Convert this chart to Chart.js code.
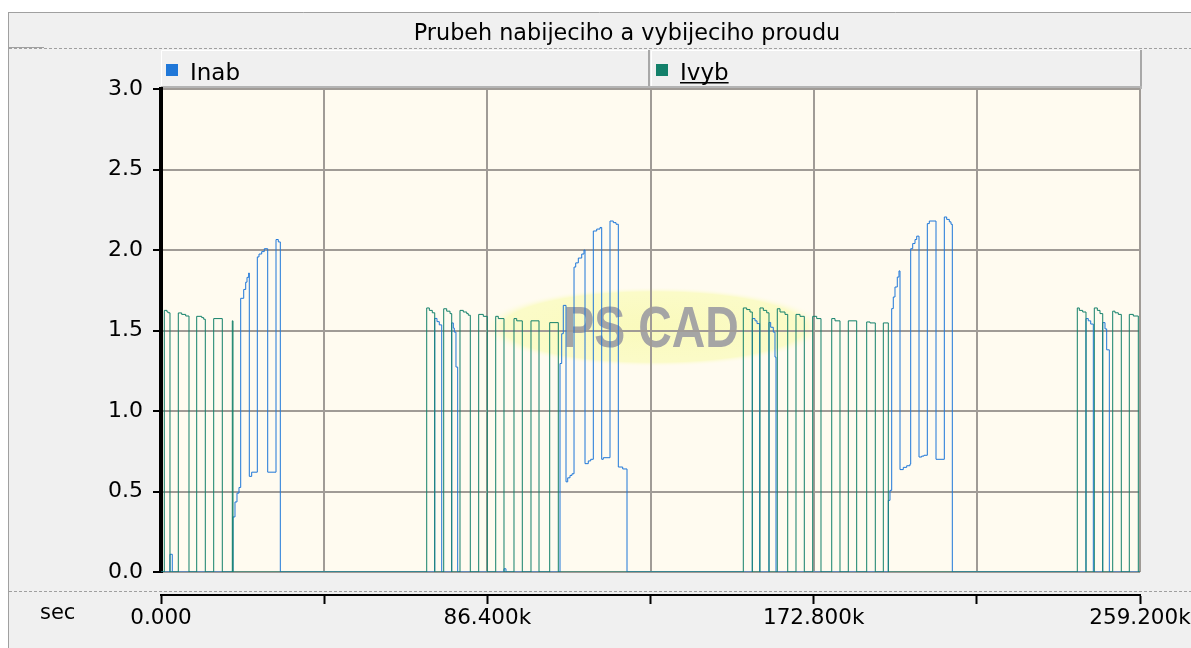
<!DOCTYPE html>
<html><head><meta charset="utf-8">
<script src="https://cdn.jsdelivr.net/npm/chart.js@4.4.0/dist/chart.umd.min.js"></script>
<style>html,body{margin:0;padding:0;background:#fff;overflow:hidden}canvas{display:block}</style>
</head><body>
<canvas id="c" width="1191" height="648"></canvas>
<script>
const chartTitle = 'Prubeh nabijeciho a vybijeciho proudu';
const seriesNames = ['Inab', 'Ivyb'];
const xUnit = 'sec';
const xMin = 0, xMax = 259200, xStep = 43200, xLabelStep = 86400;
const yMin = 0, yMax = 3.0, yStep = 0.5;

// [time s, current] – value holds until the next point
const inabSteps = [[0,0],[2380,0.11],[2990,0],
 [19060,0.342],[19590,0.435],[20120,0.49],[20650,0.525],[21100,1.70],[21900,1.755],[22430,1.80],[22770,1.83],[23220,1.857],[23380,0.594],[24010,0.62],[25500,1.957],[25950,1.975],[26660,1.99],[27350,2.008],[28250,0.62],[30450,2.065],[31060,2.05],[31590,0],
 [72470,1.575],[73070,1.555],[73680,1.535],[74320,0],
 [76970,1.547],[77390,1.515],[77650,1.49],[78100,1.273],[78550,0],
 [90810,0.02],[91340,0],
 [105640,1.295],[106090,1.48],[106510,1.656],[107230,0.56],[107680,0.585],[108290,0.60],[108820,0.61],[109350,1.894],[109800,1.92],[110490,1.95],[111390,1.975],[111990,2.0],[112260,0.673],[113130,0.69],[113770,0.70],[114460,2.118],[115360,2.13],[116230,2.14],[116680,0.70],[117100,0.71],[118880,2.18],[119750,2.17],[120470,2.16],[121080,0.652],[122240,0.64],[123380,0],
 [156550,1.574],[157270,1.56],[157800,1.543],[158500,0],
 [160970,1.55],[161420,1.52],[162110,1.49],[162560,1.335],[162830,0],
 [192560,0.445],[193010,0.507],[193460,1.636],[193880,1.708],[194330,1.77],[194940,1.832],[195390,1.87],[195660,0.636],[196530,0.65],[197430,0.66],[198300,0.67],[198490,2.008],[199020,2.04],[199630,2.065],[200080,2.086],[200690,0.714],[201400,0.72],[202010,0.725],[202890,2.164],[203420,2.18],[205190,0.70],[207390,2.205],[208020,2.19],[208710,2.175],[209160,2.16],[209510,0],
 [244900,1.574],[245510,1.56],[246150,1.54],[246840,0],
 [249330,1.549],[249930,1.51],[250380,1.38],[251080,0],
 [259200,0]];

const ivybSteps = [[0,0],
 [870,1.625],[1590,1.615],[1930,1.61],[2380,0],
 [4580,1.609],[5480,1.60],[6540,1.59],[7410,0],
 [9450,1.588],[10780,1.58],[11300,1.57],[11730,0],
 [13950,1.574],[16230,0],
 [18880,1.56],[19060,0],
 [70350,1.64],[71040,1.625],[71830,1.61],[72470,0],
 [74850,1.635],[75640,1.62],[76520,1.605],[76970,0],
 [79160,1.625],[80040,1.615],[80940,1.605],[81360,1.595],[81890,0],
 [84110,1.60],[85330,1.588],[86390,0],
 [88620,1.588],[89300,1.574],[90810,0],
 [93460,1.574],[94180,1.56],[95660,0],
 [97960,1.56],[100080,0],
 [102910,1.549],[105190,0],
 [154170,1.64],[155070,1.63],[155940,1.615],[156550,0],
 [158590,1.64],[159470,1.625],[160370,1.61],[160970,0],
 [163170,1.635],[163890,1.615],[165210,1.60],[165930,0],
 [168120,1.60],[169180,1.588],[170320,0],
 [172540,1.588],[173600,1.574],[174740,0],
 [177580,1.574],[178450,1.56],[179770,0],
 [181970,1.56],[184190,0],
 [186840,1.553],[187720,1.547],[189120,0],
 [191240,1.547],[192560,0],
 [242600,1.64],[243130,1.625],[244030,1.615],[244900,0],
 [247100,1.64],[247900,1.625],[248610,1.605],[249330,0],
 [251970,1.62],[252580,1.61],[253460,1.60],[254250,0],
 [256370,1.60],[257430,1.59],[258750,0],
 [259200,0]];

const FONT = '"DejaVu Sans", Verdana, sans-serif';
const BLUE = '#1f77d8', GREEN = '#13806a', GRID = '#a09b96';
const toPoints = s => s.map(([x, y]) => ({x, y}));

const framePlugin = {
  id: 'frame',
  beforeDraw(chart) {
    const {ctx, chartArea: a, width, height} = chart;
    ctx.save();
    ctx.fillStyle = '#fff'; ctx.fillRect(0, 0, width, height);
    ctx.fillStyle = '#f0f0f0'; ctx.fillRect(8, 12, width - 8, height - 12);
    ctx.strokeStyle = '#a0a0a0'; ctx.lineWidth = 1;
    ctx.beginPath();
    ctx.moveTo(8, 12.5); ctx.lineTo(width, 12.5);
    ctx.moveTo(8.5, 12); ctx.lineTo(8.5, height);
    ctx.moveTo(9, 47.5); ctx.lineTo(44, 47.5);
    ctx.stroke();
    ctx.setLineDash([3, 2]); ctx.strokeStyle = '#a0a0a0';
    ctx.beginPath();
    ctx.moveTo(9, 48.5); ctx.lineTo(width, 48.5);
    ctx.moveTo(9, 591.5); ctx.lineTo(width, 591.5);
    ctx.stroke();
    ctx.setLineDash([]);
    // title
    ctx.fillStyle = '#000'; ctx.font = '22.3px ' + FONT; ctx.textAlign = 'center'; ctx.textBaseline = 'alphabetic';
    ctx.fillText(chartTitle, 627, 40);
    // legend cells
    const mid = Math.round((a.left + a.right) / 2);
    const cells = [[a.left, mid - 1], [mid, a.right + 2]];
    cells.forEach(([l, r], i) => {
      ctx.fillStyle = '#f0f0f0'; ctx.fillRect(l, 50, r - l, a.top - 50);
      ctx.strokeStyle = '#ffffff'; ctx.lineWidth = 1; ctx.beginPath();
      ctx.moveTo(l + 0.5, a.top); ctx.lineTo(l + 0.5, 50.5); ctx.lineTo(r, 50.5); ctx.stroke();
      ctx.strokeStyle = '#a8a8a8'; ctx.lineWidth = 2; ctx.beginPath();
      ctx.moveTo(r - 1, 50); ctx.lineTo(r - 1, a.top); ctx.stroke();
      const ds = chart.data.datasets[i];
      ctx.fillStyle = ds.borderColor; ctx.fillRect(l + 5, 64, 12, 12);
      ctx.fillStyle = '#000'; ctx.font = '23px ' + FONT; ctx.textAlign = 'left';
      ctx.fillText(ds.label, l + 29, 80);
      if (i === 1) {
        const w = ctx.measureText(ds.label).width;
        ctx.fillRect(l + 29, 82, w, 1.5);
      }
    });
    ctx.fillStyle = '#b4b4b4'; ctx.fillRect(a.left, a.top - 3, a.right - a.left + 2, 3);
    // plot background
    ctx.fillStyle = '#fffbf0'; ctx.fillRect(a.left, a.top, a.right - a.left, a.bottom - a.top);
    // watermark glow
    ctx.save();
    ctx.translate(654, 327); ctx.scale(1, 40 / 172);
    const g = ctx.createRadialGradient(0, 0, 0, 0, 0, 172);
    g.addColorStop(0, 'rgba(250,250,188,1)');
    g.addColorStop(0.88, 'rgba(251,251,200,1)');
    g.addColorStop(1, 'rgba(255,251,240,0)');
    ctx.fillStyle = g; ctx.beginPath(); ctx.arc(0, 0, 172, 0, Math.PI * 2); ctx.fill();
    ctx.restore();
    // watermark text (under grid and traces)
    ctx.save();
    ctx.translate(651, 347); ctx.scale(0.8, 1);
    ctx.font = 'bold 58px "Liberation Sans", Arial, sans-serif';
    ctx.textAlign = 'center'; ctx.textBaseline = 'alphabetic';
    ctx.fillStyle = '#a5a5a5';
    ctx.fillText('PS CAD', 0, 0);
    ctx.restore();
    ctx.restore();
  },
  afterDraw(chart) {
    const ctx = chart.ctx;
    ctx.save();
    ctx.fillStyle = '#000'; ctx.font = '21px ' + FONT; ctx.textAlign = 'left';
    ctx.fillText(xUnit, 40, 619);
    ctx.restore();
  }
};

new Chart(document.getElementById('c'), {
  type: 'line',
  data: {
    datasets: [
      {label: seriesNames[0], data: toPoints(inabSteps), borderColor: BLUE, backgroundColor: BLUE, borderWidth: 1, stepped: true, pointRadius: 0, fill: false, order: 1},
      {label: seriesNames[1], data: toPoints(ivybSteps), borderColor: GREEN, backgroundColor: GREEN, borderWidth: 1, stepped: true, pointRadius: 0, fill: false, order: 0}
    ]
  },
  options: {
    responsive: false, animation: false, devicePixelRatio: 1,
    layout: {padding: {top: 89, right: 51, left: 0, bottom: 0}},
    plugins: {legend: {display: false}, title: {display: false}, tooltip: {enabled: false}},
    scales: {
      x: {type: 'linear', position: 'bottom', min: xMin, max: xMax, weight: 0,
        ticks: {display: false, stepSize: xStep},
        grid: {color: GRID, lineWidth: 2, drawTicks: true, tickLength: 23, tickColor: 'rgba(0,0,0,0)'},
        border: {display: false},
        afterFit(s) { s.height = 23; s.paddingLeft = 0; s.paddingRight = 0; }},
      x2: {type: 'linear', position: 'bottom', min: xMin, max: xMax, weight: 1,
        ticks: {stepSize: xStep, autoSkip: false, maxRotation: 0, padding: 2, color: '#000', font: {family: FONT, size: 21.5},
          callback: v => (v % xLabelStep === 0) ? (v / 1000).toFixed(3) + (v ? 'k' : '') : ''},
        grid: {drawOnChartArea: false, drawTicks: true, tickLength: 9, tickColor: '#000', tickWidth: 2},
        border: {display: true, color: '#000', width: 2},
        afterFit(s) { s.height = 53; s.paddingLeft = 0; s.paddingRight = 0; }},
      y: {type: 'linear', position: 'left', min: yMin, max: yMax,
        ticks: {stepSize: yStep, padding: 10, color: '#000', font: {family: FONT, size: 22}, callback: v => v.toFixed(1)},
        grid: {color: GRID, lineWidth: 2, tickLength: 8, tickColor: '#000', tickWidth: 2},
        border: {color: '#000', width: 4},
        afterFit(s) { s.width = 161; s.paddingTop = 0; s.paddingBottom = 0; }}
    }
  },
  plugins: [framePlugin]
});
</script>
</body></html>
